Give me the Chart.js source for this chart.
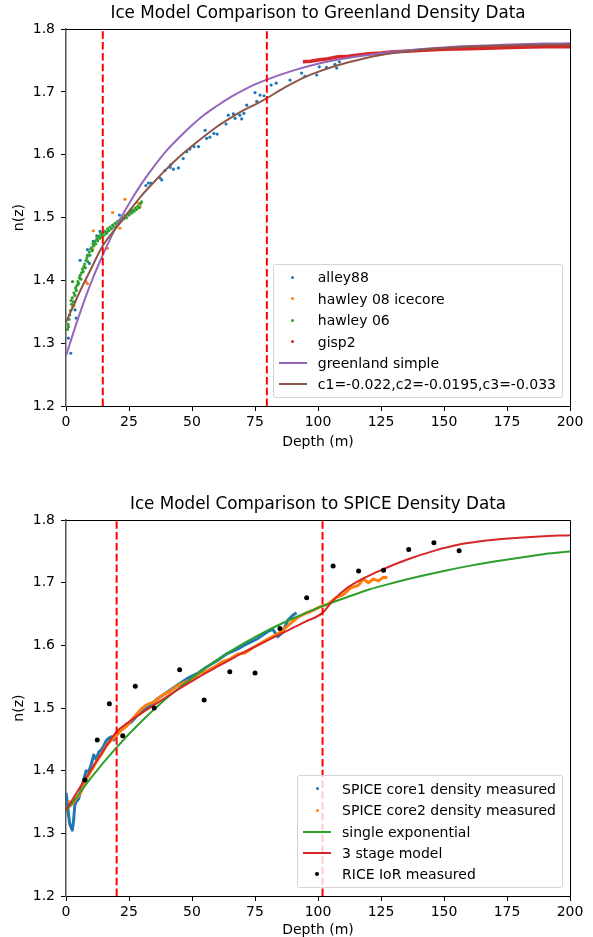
<!DOCTYPE html>
<html>
<head>
<meta charset="utf-8">
<script src="https://cdn.jsdelivr.net/npm/chart.js@4.4.1/dist/chart.umd.min.js"></script>
<style>
html, body { margin: 0; padding: 0; background: #fff; overflow: hidden; }
.box { position: absolute; left: 0; width: 593px; }
canvas { display: block; }
.legend { position: absolute; font: 14px "DejaVu Sans", sans-serif; color: #000; background: rgba(255,255,255,0.8);
  border: 1px solid #d4d4d4; border-radius: 3px; padding: 2px 6px 2px 5px; white-space: nowrap; }
.row { height: 21.4px; display: flex; align-items: center; }
.handle { width: 28px; margin-right: 11px; display: flex; justify-content: center; align-items: center; }
</style>
</head>
<body>
<div class="box" id="topBox" style="top:0;height:470px"><canvas id="topChart" width="593" height="470"></canvas></div>
<div class="box" id="botBox" style="top:491px;height:452px"><canvas id="botChart" width="593" height="452"></canvas></div>
<script>
const FONT = '"DejaVu Sans", sans-serif'

// shared axes
const depthRange = [0, 200]
const nRange = [1.2, 1.8]

// ---- Greenland panel ----
const topLabels = ['alley88', 'hawley 08 icecore', 'hawley 06', 'gisp2', 'greenland simple', 'c1=-0.022,c2=-0.0195,c3=-0.033']
const greenlandCuts = [14.6, 79.7]

const alleyDepth = [0.9, 1.9, 3.6, 4.0, 5.6, 8.5, 8.5, 9.3, 10.8, 12.2, 13.5, 16.2, 21.2, 25.8, 31.7, 32.7, 33.6, 37.3, 38.0, 39.3,
  41.3, 41.5, 42.6, 44.6, 46.5, 47.9, 49.2, 50.8, 52.6, 55.2, 55.8, 57.1, 58.7, 60.0, 63.5, 64.4, 66.4, 67.1, 69.0, 69.7,
  70.6, 71.7, 75.0, 75.7, 77.0, 78.6, 81.4, 83.4, 88.9, 93.5, 94.8, 99.5, 100.5, 103.4, 106.7, 107.4, 108.5]
const alleyN = [1.308, 1.284, 1.353, 1.340, 1.432, 1.449, 1.440, 1.427, 1.462, 1.471, 1.478, 1.476, 1.504, 1.512, 1.551, 1.555, 1.555, 1.563, 1.560, 1.575,
  1.580, 1.584, 1.577, 1.579, 1.594, 1.605, 1.609, 1.613, 1.613, 1.639, 1.626, 1.628, 1.634, 1.633, 1.649, 1.663, 1.665, 1.658, 1.663, 1.657,
  1.666, 1.679, 1.699, 1.685, 1.695, 1.694, 1.711, 1.714, 1.719, 1.730, 1.725, 1.727, 1.740, 1.739, 1.744, 1.738, 1.748]

const h08Depth = [2.6, 3.2, 3.6, 7.9, 8.5, 10.6, 10.8, 16.4, 18.5, 21.4, 23.4, 28.7, 29.4]
const h08N = [1.358, 1.360, 1.366, 1.398, 1.395, 1.449, 1.479, 1.451, 1.508, 1.483, 1.529, 1.523, 1.517]

const h06Depth = [0.6, 0.8, 1.0, 1.2, 1.5, 1.8, 2.0, 2.2, 2.5, 2.6, 2.9,
  3.2, 3.5, 3.8, 4.1, 4.4, 4.7, 5.0, 5.3, 5.6, 5.9, 6.2, 6.5, 6.8, 7.1, 7.4, 7.7, 8.0, 8.3, 8.6, 8.9, 9.2, 9.5, 9.8, 10.1,
  10.4, 10.7, 11.0, 11.4, 11.8, 12.2, 12.6, 13.0, 13.4, 13.8, 14.2, 14.6, 15.0,
  15.5, 16.0, 16.5, 17.0, 17.5, 18.0, 18.5, 19.0, 19.5, 20.0, 20.5, 21.0, 21.5, 22.0, 22.5, 23.0, 23.5, 24.0, 24.5, 25.0,
  25.5, 26.0, 26.5, 27.0, 27.5, 28.0, 28.5, 29.0, 29.5, 30.0]
const h06N = [1.322, 1.330, 1.326, 1.338, 1.345, 1.352, 1.368, 1.362, 1.372, 1.398, 1.366,
  1.380, 1.376, 1.388, 1.384, 1.392, 1.398, 1.395, 1.404, 1.408, 1.402, 1.412, 1.418, 1.414, 1.422, 1.426, 1.420, 1.432, 1.436, 1.430, 1.440, 1.445, 1.440, 1.450, 1.452,
  1.447, 1.458, 1.455, 1.462, 1.458, 1.466, 1.463, 1.470, 1.467, 1.474, 1.470, 1.476, 1.472,
  1.478, 1.475, 1.482, 1.479, 1.485, 1.482, 1.488, 1.485, 1.491, 1.489, 1.494, 1.491, 1.497, 1.495, 1.500, 1.498, 1.503, 1.500, 1.506, 1.504,
  1.509, 1.507, 1.512, 1.510, 1.515, 1.513, 1.518, 1.516, 1.522, 1.525]

const gispDepth = [94, 97, 100, 104, 108, 112, 116, 120, 125, 130, 135, 140, 150, 160, 170, 180, 190, 200]
const gispN = [1.748, 1.749, 1.751, 1.753, 1.756, 1.757, 1.759, 1.761, 1.762, 1.764, 1.765, 1.766, 1.768, 1.769, 1.770, 1.771, 1.772, 1.772]

const simpleDepth = [0, 5, 10, 15, 20, 25, 30, 35, 40, 45, 50, 55, 60, 65, 70, 75, 80, 90, 100, 110, 120, 130, 140, 150, 160, 170, 180, 190, 200]
const simpleN = [1.280, 1.342, 1.397, 1.444, 1.486, 1.522, 1.554, 1.582, 1.607, 1.628, 1.647, 1.664, 1.678, 1.691, 1.702, 1.712, 1.720,
  1.734, 1.745, 1.753, 1.759, 1.764, 1.768, 1.771, 1.773, 1.7745, 1.776, 1.777, 1.7775]

const fitDepth = [0, 5, 10, 14.6, 20, 25, 30, 35, 40, 45, 50, 55, 60, 65, 70, 75, 79.7, 85, 90, 95, 100, 105, 110, 120, 130, 140, 150, 160, 170, 180, 190, 200]
const fitN = [1.333, 1.378, 1.419, 1.455, 1.484, 1.510, 1.535, 1.557, 1.578, 1.597, 1.614, 1.630, 1.645, 1.658, 1.670, 1.680, 1.690,
  1.703, 1.714, 1.724, 1.732, 1.739, 1.745, 1.755, 1.762, 1.767, 1.770, 1.772, 1.7735, 1.7745, 1.775, 1.7755]

// ---- SPICE panel ----
const botLabels = ['SPICE core1 density measured', 'SPICE core2 density measured', 'single exponential', '3 stage model', 'RICE IoR measured']
const spiceCuts = [20.1, 101.8]

const core1Depth = [0, 0.5, 1, 1.5, 2, 2.5, 3, 3.5, 4, 5, 6, 7, 8, 9, 10, 11, 12, 13, 14, 15, 16, 17, 18, 19, 20,
  22, 24, 26, 28, 30, 33, 36, 40, 44, 48, 52, 56, 60, 64, 68, 72, 76, 80, 82, 84, 86, 88, 90, 91.5]
const core1N = [1.365, 1.350, 1.330, 1.315, 1.310, 1.305, 1.320, 1.345, 1.350, 1.355, 1.370, 1.385, 1.400, 1.398, 1.410, 1.425, 1.418, 1.430, 1.433, 1.440, 1.448, 1.452, 1.454, 1.449, 1.460,
  1.466, 1.473, 1.478, 1.487, 1.494, 1.503, 1.514, 1.525, 1.536, 1.547, 1.555, 1.566, 1.576, 1.587, 1.594, 1.603, 1.611, 1.622, 1.626, 1.614, 1.621, 1.640, 1.648, 1.652]

const core2Depth = [1, 2, 3, 4, 5, 6, 7, 8, 10, 12, 14, 16, 18, 20, 22, 24, 26, 28, 30, 32,
  35, 38, 41, 44, 47, 50, 53, 56, 59, 62, 65, 68, 71, 74, 77, 80, 83, 86, 89, 92, 95, 98, 101,
  104, 107, 110, 113, 116, 118, 120, 122, 124, 126, 127.5]
const core2N = [1.352, 1.345, 1.350, 1.356, 1.360, 1.366, 1.376, 1.386, 1.400, 1.414, 1.426, 1.440, 1.449, 1.456, 1.465, 1.471, 1.481, 1.490, 1.499, 1.505,
  1.510, 1.520, 1.526, 1.535, 1.541, 1.546, 1.556, 1.559, 1.566, 1.574, 1.578, 1.586, 1.588, 1.596, 1.603, 1.610, 1.616, 1.624, 1.635, 1.645, 1.651, 1.656, 1.662,
  1.666, 1.676, 1.681, 1.692, 1.696, 1.706, 1.700, 1.706, 1.703, 1.709, 1.708]

const singleDepth = [0, 10, 20, 30, 40, 50, 60, 70, 80, 90, 100, 110, 120, 130, 140, 150, 160, 170, 180, 190, 200]
const singleN = [1.335, 1.389, 1.437, 1.479, 1.516, 1.548, 1.577, 1.602, 1.624, 1.643, 1.660, 1.675, 1.689, 1.700, 1.710, 1.719, 1.727, 1.734, 1.740, 1.746, 1.750]

const stageDepth = [0, 5, 10, 15, 20, 25, 30, 35, 40, 45, 50, 55, 60, 65, 70, 75, 80, 85, 90, 95,
  101.8, 106, 111, 118, 126, 136, 146, 156, 166, 177, 188, 200]
const stageN = [1.337, 1.370, 1.402, 1.433, 1.462, 1.478, 1.492, 1.505, 1.518, 1.531, 1.543, 1.555, 1.566, 1.577, 1.588, 1.598, 1.608, 1.618, 1.628, 1.638,
  1.652, 1.672, 1.690, 1.707, 1.722, 1.738, 1.751, 1.761, 1.767, 1.771, 1.774, 1.776]

const riceDepth = [7.5, 12.4, 17.2, 22.5, 27.5, 35.0, 45.1, 54.8, 65.0, 75.0, 84.9, 95.5, 106.0, 116.1, 126.0, 136.0, 146.0, 156.0]
const riceN = [1.385, 1.449, 1.507, 1.456, 1.535, 1.500, 1.561, 1.513, 1.558, 1.556, 1.627, 1.676, 1.727, 1.719, 1.720, 1.753, 1.764, 1.751]

const BLUE = '#1f77b4', ORANGE = '#ff7f0e', GREEN = '#2ca02c', RED = '#d62728', PURPLE = '#9467bd', BROWN = '#8c564b'

function pts(xs, ys) {
  return xs.map(function(x, i) { return {x: x, y: ys[i]} })
}

function dots(label, xs, ys, color, r) {
  return {label: label, data: pts(xs, ys), showLine: false, pointRadius: r, pointHoverRadius: r,
    pointBorderWidth: 0, backgroundColor: color, borderColor: color}
}

function curve(label, xs, ys, color, width, smooth) {
  return {label: label, data: pts(xs, ys), showLine: true, pointRadius: 0, pointHoverRadius: 0,
    borderColor: color, backgroundColor: color, borderWidth: width, fill: false,
    cubicInterpolationMode: smooth ? 'monotone' : 'default', tension: 0, borderJoinStyle: 'round'}
}

function cutLine(d) {
  return {label: 'cut', data: pts([d, d], nRange), showLine: true, pointRadius: 0, pointHoverRadius: 0,
    borderColor: '#ff0000', borderWidth: 2, borderDash: [7.5, 3.3], fill: false}
}

const frame = {
  id: 'frame',
  afterDraw: function(chart) {
    const a = chart.chartArea, c = chart.ctx
    c.save()
    c.strokeStyle = '#000'
    c.lineWidth = 1
    c.beginPath()
    c.moveTo(a.left, Math.round(a.top) + 0.5)
    c.lineTo(Math.round(a.right) + 0.5, Math.round(a.top) + 0.5)
    c.lineTo(Math.round(a.right) + 0.5, a.bottom)
    c.stroke()
    c.restore()
  }
}

function makeChart(id, title, datasets, xAxisH, xTitlePad) {
  datasets.forEach(function(ds, i) { ds.order = datasets.length - i })
  const tickFont = {family: FONT, size: 14}
  return new Chart(document.getElementById(id), {
    type: 'scatter',
    data: {datasets: datasets},
    plugins: [frame],
    options: {
      responsive: false,
      animation: false,
      events: [],
      layout: {padding: {left: 0, right: 23, top: 0, bottom: 0}},
      plugins: {
        legend: {display: false},
        tooltip: {enabled: false},
        title: {display: true, text: title, fullSize: false, color: '#000',
          font: {family: FONT, size: 16.8, weight: 'normal'}, padding: {top: 4, bottom: 5}}
      },
      scales: {
        x: {
          type: 'linear', min: depthRange[0], max: depthRange[1],
          afterFit: function(s) { s.height = xAxisH },
          ticks: {stepSize: 25, color: '#000', font: tickFont, padding: 3, maxRotation: 0},
          grid: {drawOnChartArea: false, tickLength: 5, color: '#000'},
          border: {color: '#000', width: 1},
          title: {display: true, text: 'Depth (m)', color: '#000', font: tickFont, padding: {top: 0, bottom: xTitlePad}}
        },
        y: {
          type: 'linear', min: nRange[0], max: nRange[1],
          afterFit: function(s) { s.width = 66 },
          ticks: {stepSize: 0.1, color: '#000', font: tickFont, padding: 6,
            callback: function(v) { return v.toFixed(1) }},
          grid: {drawOnChartArea: false, tickLength: 5, color: '#000'},
          border: {color: '#555', width: 1.5},
          title: {display: true, text: 'n(z)', color: '#000', font: tickFont, padding: {top: 11, bottom: 0}}
        }
      }
    }
  })
}

function addLegend(chart, boxId, canvasH, items) {
  const a = chart.chartArea
  const div = document.createElement('div')
  div.className = 'legend'
  items.forEach(function(it) {
    const row = document.createElement('div')
    row.className = 'row'
    const h = document.createElement('span')
    h.className = 'handle'
    const mark = document.createElement('span')
    if (it.line) {
      mark.style.cssText = 'display:block;width:28px;height:2px;background:' + it.color
    } else {
      mark.style.cssText = 'display:block;width:' + it.size + 'px;height:' + it.size + 'px;border-radius:50%;background:' + it.color
    }
    h.appendChild(mark)
    row.appendChild(h)
    const t = document.createElement('span')
    t.textContent = it.label
    row.appendChild(t)
    div.appendChild(row)
  })
  div.style.right = (593 - a.right + 7) + 'px'
  div.style.bottom = (canvasH - a.bottom + 8) + 'px'
  document.getElementById(boxId).appendChild(div)
}

const topChart = makeChart('topChart', 'Ice Model Comparison to Greenland Density Data', [
  dots(topLabels[0], alleyDepth, alleyN, BLUE, 1.6),
  dots(topLabels[1], h08Depth, h08N, ORANGE, 1.6),
  dots(topLabels[2], h06Depth, h06N, GREEN, 1.6),
  curve(topLabels[3], gispDepth, gispN, RED, 3.5, false),
  curve(topLabels[4], simpleDepth, simpleN, PURPLE, 2, true),
  curve(topLabels[5], fitDepth, fitN, BROWN, 2, true),
  cutLine(greenlandCuts[0]),
  cutLine(greenlandCuts[1])
], 64, 19.6)

addLegend(topChart, 'topBox', 470, [
  {label: topLabels[0], color: BLUE, size: 3},
  {label: topLabels[1], color: ORANGE, size: 3},
  {label: topLabels[2], color: GREEN, size: 3},
  {label: topLabels[3], color: RED, size: 3},
  {label: topLabels[4], color: PURPLE, line: true},
  {label: topLabels[5], color: BROWN, line: true}
])

const botChart = makeChart('botChart', 'Ice Model Comparison to SPICE Density Data', [
  curve(botLabels[0], core1Depth, core1N, BLUE, 3, false),
  curve(botLabels[1], core2Depth, core2N, ORANGE, 3, false),
  curve(botLabels[2], singleDepth, singleN, GREEN, 2, true),
  curve(botLabels[3], stageDepth, stageN, RED, 2, true),
  dots(botLabels[4], riceDepth, riceN, '#000', 2.5),
  cutLine(spiceCuts[0]),
  cutLine(spiceCuts[1])
], 47, 4)

addLegend(botChart, 'botBox', 452, [
  {label: botLabels[0], color: BLUE, size: 3},
  {label: botLabels[1], color: ORANGE, size: 3},
  {label: botLabels[2], color: GREEN, line: true},
  {label: botLabels[3], color: RED, line: true},
  {label: botLabels[4], color: '#000', size: 4}
])
</script>
</body>
</html>
